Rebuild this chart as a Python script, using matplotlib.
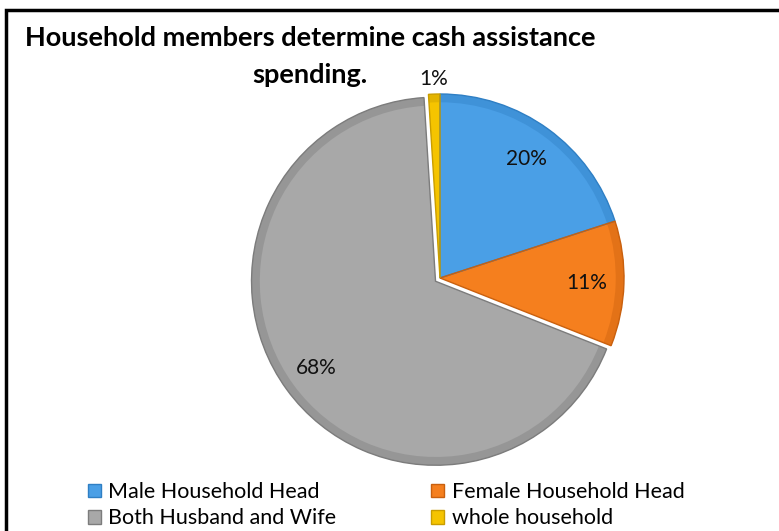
import numpy as np
import matplotlib.pyplot as plt
from matplotlib.patches import Rectangle, Wedge

plt.rcParams['font.family'] = ['Lato', 'DejaVu Sans']

# who decides how the cash assistance is spent
labels = ["Male Household Head", "Female Household Head",
          "Both Husband and Wife", "whole household"]
shares = [20, 11, 68, 1]
colors = ["#4a9fe6", "#f57f1e", "#a8a8a8", "#f5c400"]
edge_colors = ["#2f7fc4", "#c9600e", "#7c7c7c", "#c99d00"]
explode = [0, 0, 0.03, 0]

W, H = 779, 531
fig = plt.figure(figsize=(W / 100, H / 100), dpi=100)

# pie axes: center (440, 278) px, radius 184 px
cx, cy, R = 440, 278, 184
lim = 1.1
side = 2 * lim * R
ax = fig.add_axes([(cx - side / 2) / W, (H - cy - side / 2) / H, side / W, side / H])

wedges, _ = ax.pie(shares, colors=colors, explode=explode, startangle=90,
                   counterclock=False, radius=1.0,
                   wedgeprops=dict(linewidth=0))
ax.set_xlim(-lim, lim)
ax.set_ylim(-lim, lim)
ax.axis('off')

# soft bevelled rim on every slice
for w, ec in zip(wedges, edge_colors):
    c = w.center
    ax.add_patch(Wedge(c, 1.0, w.theta1, w.theta2, width=0.045,
                       facecolor=ec, alpha=0.4, linewidth=0))
    ax.add_patch(Wedge(c, 1.0, w.theta1, w.theta2, facecolor='none',
                       edgecolor=ec, linewidth=1.0))

# percentage labels placed along each slice's mid angle
total = sum(shares)
for w, v in zip(wedges, shares):
    mid = np.deg2rad((w.theta1 + w.theta2) / 2)
    dist = 0.8 if v / total > 0.05 else 1.08
    x = w.center[0] + dist * np.cos(mid)
    y = w.center[1] + dist * np.sin(mid)
    ax.text(x, y, f"{v}%", ha='center', va='center', fontsize=15, color='#111111')

# title, two centered lines
fig.text(310 / W, 1 - 46 / H, "Household members determine cash assistance",
         ha='center', va='baseline', fontsize=19.5, fontweight='bold')
fig.text(310 / W, 1 - 83 / H, "spending.",
         ha='center', va='baseline', fontsize=19.5, fontweight='bold')

# chart frame (right and bottom edges run off the page)
fig.patches.append(Rectangle((6 / W, -0.1), 1.2, 1.1 - 10 / H,
                             transform=fig.transFigure, fill=False,
                             edgecolor='black', linewidth=2.5))

order = [0, 2, 1, 3]
leg = fig.legend([wedges[i] for i in order], [labels[i] for i in order],
                 ncol=2, loc='upper left', bbox_to_anchor=(88 / W, 1 - 482 / H),
                 frameon=False, fontsize=15.5, handlelength=0.6, handleheight=0.6,
                 handletextpad=0.35, columnspacing=4.4, labelspacing=0.3,
                 borderpad=0, borderaxespad=0)
for h, i in zip(leg.legend_handles, order):
    h.set_edgecolor(edge_colors[i])
    h.set_linewidth(1)

fig.savefig("out.png", dpi=100)
